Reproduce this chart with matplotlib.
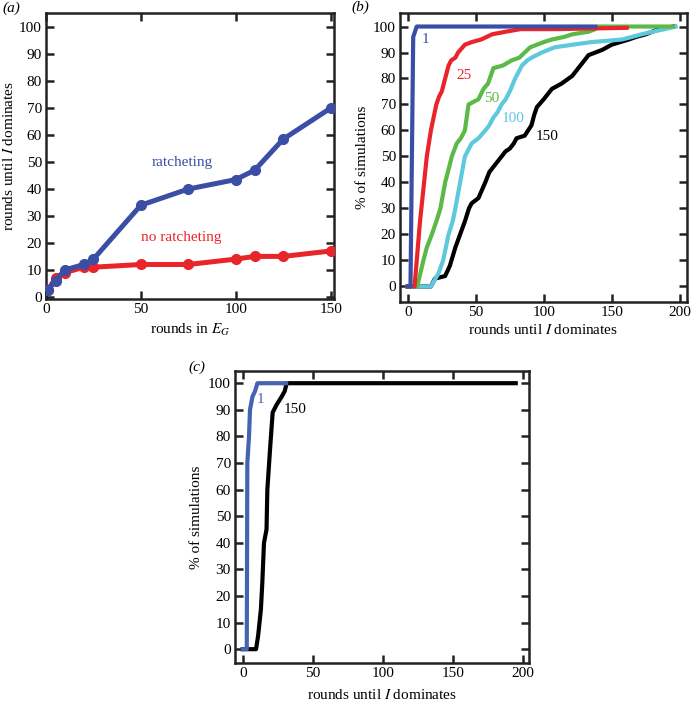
import matplotlib
matplotlib.use("Agg")
import matplotlib.pyplot as plt

plt.rcParams['font.family'] = ['Liberation Serif', 'DejaVu Serif']
plt.rcParams['mathtext.fontset'] = 'stix'

# ---------------- data ----------------
# panel (a)
eg_rounds = [1, 5, 10, 20, 25, 50, 75, 100, 110, 125, 150]
ratchet = [2.5, 6, 10, 12, 14, 34, 40, 43.5, 47, 58.5, 70]
no_ratchet = [2.5, 7, 9, 11, 11, 12, 12, 14, 15, 15, 17]

# panel (b)  cumulative % of simulations vs rounds
b1_x = [0, 2, 4, 6.6, 138]
b1_y = [0, 0, 96, 100, 100]
b25_x = [0, 5, 6.6, 9, 12, 14, 17, 19, 21, 23, 25, 27.5, 30, 32, 35, 37, 42, 47, 54, 58, 62, 67, 72, 83, 110, 161]
b25_y = [0, 0, 10, 25, 40, 50, 60, 65, 70, 73, 75, 80, 85, 87, 88, 90, 93, 94, 95, 96, 97, 97.5, 98, 99, 99, 99.5]
b50_x = [0, 7, 11.5, 14, 17.7, 21, 24, 27.5, 30, 32.4, 36, 39, 42, 44.7, 52, 55.7, 59, 63, 70, 76.5, 82, 86, 90, 95, 100, 106, 115, 121, 133, 138, 140, 195]
b50_y = [0, 0, 10, 15, 20, 25, 30, 40, 45, 50, 55, 57, 60, 70, 72, 76, 78, 84, 85, 87, 88, 90, 92, 93, 94, 95, 96, 97, 98, 99, 100, 100]
b100_x = [0, 17, 22.6, 26, 30, 33, 35, 38.5, 42, 47, 52, 57, 60, 63, 66, 69, 72, 75, 79, 84, 88, 91, 98.6, 108, 121, 135, 157.5, 165, 172, 180, 189, 197]
b100_y = [0, 0, 5, 10, 20, 25, 30, 40, 50, 55, 57, 60, 62, 65, 67, 70, 72, 75, 80, 85, 87, 88, 90, 92, 93, 94, 95, 96, 97, 98, 99, 100]
b150_x = [0, 17, 20, 27.5, 31, 35, 38.5, 42, 45, 47, 52, 57, 60, 63, 66, 69, 72, 75, 78, 80, 86, 91, 93, 95, 100, 106, 113, 121, 127, 133, 143, 150, 162.5, 168, 175, 184.5, 195.6]
b150_y = [0, 0, 3, 4, 8, 15, 20, 25, 30, 32, 34, 40, 44, 46, 48, 50, 52, 53, 55, 57, 58, 62, 66, 69, 72, 76, 78, 81, 85, 89, 91, 93, 95, 96, 97, 99, 100]

# panel (c)
c1_x = [0, 2.9, 3.3, 4.5, 5.2, 7, 8.8, 10.5, 31]
c1_y = [0, 0, 70, 80, 90, 95, 97, 100, 100]
c150_x = [0, 9.5, 11, 13, 14, 15.2, 17, 17.6, 19.5, 21.4, 24.3, 27.9, 30, 31.4, 195]
c150_y = [0, 0, 5, 15, 25, 40, 45, 60, 75, 89, 92, 95, 97, 100, 100]

# ---------------- style ----------------
BLUE = '#3a4ea6'
BLUE_C = '#4463b0'
RED = '#e8252b'
GREEN = '#5db947'
CYAN = '#5ec9dd'
BLACK = '#000000'
TICK_FS = 11
LAB_FS = 11

fig = plt.figure(figsize=(6.91, 7.03), dpi=100)


def style_axes(ax):
    for s in ax.spines.values():
        s.set_linewidth(1.8)
        s.set_color('#222222')
    ax.tick_params(direction='in', top=True, right=True, length=6, width=1.8,
                   labelsize=TICK_FS, color='#222222', pad=3)


def place_labels(ax, xl_y, yl_x):
    ax.xaxis.label.set_va('center')
    ax.yaxis.label.set_va('center')
    ax.xaxis.set_label_coords(0.5, xl_y)
    ax.yaxis.set_label_coords(yl_x, 0.5)


# panel (a)
axa = fig.add_axes([0.0666, 0.5747, 0.4168, 0.4064])
axa.plot(eg_rounds, no_ratchet, '-o', color=RED, lw=3.6, ms=7, zorder=3)
axa.plot(eg_rounds, ratchet, '-o', color=BLUE, lw=3.6, ms=7, zorder=4)
axa.set_xlim(0, 151.8)
axa.set_ylim(-0.8, 105.2)
axa.set_xticks([0, 50, 100, 150])
axa.set_yticks(range(0, 101, 10))
axa.set_xlabel('rounds in $E_G$', fontsize=LAB_FS)
axa.set_ylabel('rounds until $I$ dominates', fontsize=LAB_FS)
place_labels(axa, -0.108, -0.13)
axa.text(72, 50, 'ratcheting', color=BLUE, fontsize=LAB_FS, ha='center', va='center')
axa.text(71, 22, 'no ratcheting', color=RED, fontsize=LAB_FS, ha='center', va='center')
style_axes(axa)
fig.text(0.003, 0.988, '(a)', fontsize=LAB_FS, style='italic', ha='left', va='center')

# panel (b)
axb = fig.add_axes([0.5789, 0.5704, 0.4153, 0.4111])
kw = dict(lw=3.0)
axb.plot(b150_x, b150_y, color=BLACK, zorder=2, **kw)
axb.plot(b100_x, b100_y, color=CYAN, zorder=3, **kw)
axb.plot(b50_x, b50_y, color=GREEN, zorder=4, **kw)
axb.plot(b25_x, b25_y, color=RED, zorder=5, **kw)
axb.plot(b1_x, b1_y, color=BLUE, zorder=6, **kw)
axb.set_xlim(-5.7, 205.4)
axb.set_ylim(-6, 105.2)
axb.set_xticks([0, 50, 100, 150, 200])
axb.set_yticks(range(0, 101, 10))
axb.set_xlabel('rounds until $I$ dominates', fontsize=LAB_FS)
axb.set_ylabel('% of simulations', fontsize=LAB_FS)
place_labels(axb, -0.098, -0.13)
axb.text(12.7, 95, '1', color=BLUE, fontsize=LAB_FS, ha='center', va='center')
axb.text(41, 81, '25', color=RED, fontsize=LAB_FS, ha='center', va='center')
axb.text(61.8, 72.4, '50', color=GREEN, fontsize=LAB_FS, ha='center', va='center')
axb.text(77.8, 64.7, '100', color=CYAN, fontsize=LAB_FS, ha='center', va='center')
axb.text(102.3, 57.6, '150', color=BLACK, fontsize=LAB_FS, ha='center', va='center')
style_axes(axb)
fig.text(0.508, 0.99, '(b)', fontsize=LAB_FS, style='italic', ha='left', va='center')

# panel (c)
axc = fig.add_axes([0.3401, 0.0569, 0.4255, 0.4154])
axc.plot(c1_x, c1_y, color=BLUE_C, lw=3.0, zorder=3)
axc.plot(c150_x, c150_y, color=BLACK, lw=3.0, zorder=2)
axc.set_xlim(-5.5, 204.5)
axc.set_ylim(-5.2, 104.6)
axc.set_xticks([0, 50, 100, 150, 200])
axc.set_yticks(range(0, 101, 10))
axc.set_xlabel('rounds until $I$ dominates', fontsize=LAB_FS)
axc.set_ylabel('% of simulations', fontsize=LAB_FS)
place_labels(axc, -0.110, -0.13)
axc.text(12.9, 93.7, '1', color=BLUE_C, fontsize=LAB_FS, ha='center', va='center')
axc.text(37.4, 90.2, '150', color=BLACK, fontsize=LAB_FS, ha='center', va='center')
style_axes(axc)
fig.text(0.273, 0.478, '(c)', fontsize=LAB_FS, style='italic', ha='left', va='center')

fig.savefig('out.png', dpi=100)
